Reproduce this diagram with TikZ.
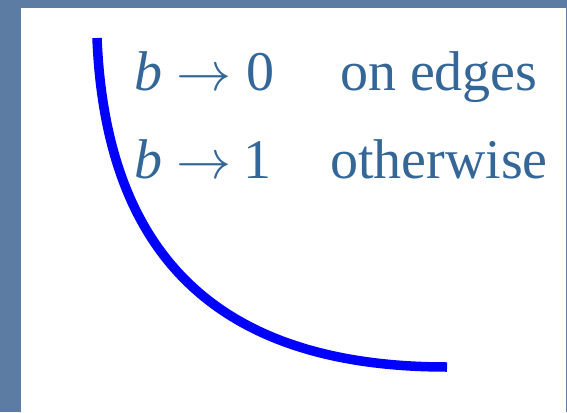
\documentclass[tikz,border=0pt]{standalone}
\usepackage{fontspec}
\setmainfont{Liberation Serif}
\definecolor{bgblue}{RGB}{92,124,163}
\definecolor{txtblue}{RGB}{52,102,152}
\definecolor{curveblue}{RGB}{0,0,255}
\tikzset{
  lbl/.style={anchor=base west, inner sep=0pt, outer sep=0pt, text=txtblue,
    font=\fontsize{56}{60}\selectfont},
}
\newcommand{\bigarrowsym}{\scalebox{5.5}{\normalsize$\rightarrow$}}
\begin{document}
\begin{tikzpicture}[x=1pt,y=-1pt]
\useasboundingbox (0,0) rectangle (567,412);
\fill[bgblue] (0,0) rectangle (567,412);
\fill[white] (21,8) rectangle (566,412);
\draw[curveblue, line width=9.5pt] (97,38) .. controls (106,262) and (225,367) .. (447,367);
\node[lbl] (b1) at (134,90) {\itshape b};
\node[lbl] (a1) at (176,90) {\bigarrowsym};
\node[lbl] (n1) at (246,90) {0};
\node[lbl] (t1) at (340,90) {on edges};
\node[lbl] (b2) at (134,178) {\itshape b};
\node[lbl] (a2) at (176,178) {\bigarrowsym};
\node[lbl] (n2) at (243,178) {1};
\node[lbl] (t2) at (330,178) {otherwise};
\end{tikzpicture}
\end{document}
